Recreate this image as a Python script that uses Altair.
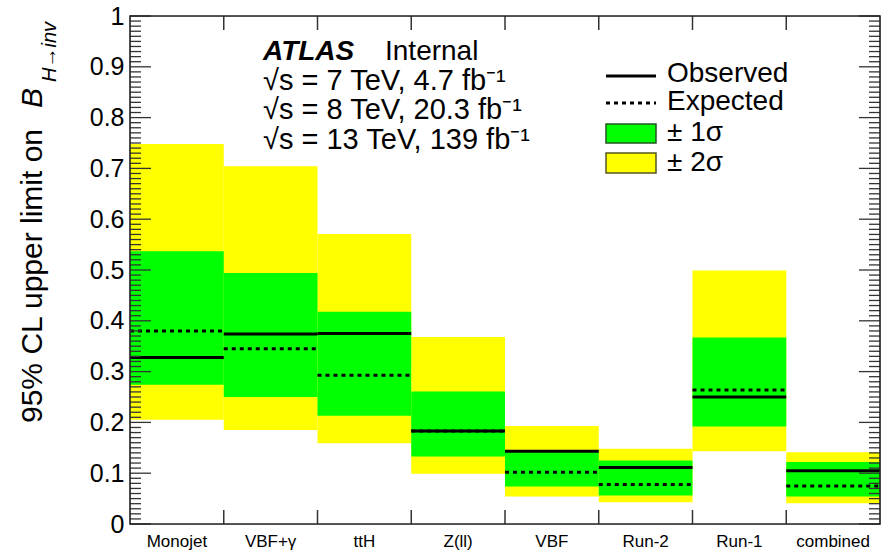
import altair as alt
import pandas as pd

# ---- data ----
categories = ["Monojet", "VBF+γ", "ttH", "Z(ll)", "VBF", "Run-2", "Run-1", "combined"]
observed = [0.328, 0.374, 0.375, 0.183, 0.143, 0.111, 0.250, 0.105]
expected = [0.380, 0.345, 0.293, 0.183, 0.102, 0.078, 0.264, 0.075]
band1_lo = [0.274, 0.250, 0.213, 0.133, 0.074, 0.056, 0.192, 0.054]
band1_hi = [0.537, 0.494, 0.418, 0.261, 0.145, 0.125, 0.367, 0.122]
band2_lo = [0.205, 0.185, 0.159, 0.099, 0.054, 0.043, 0.143, 0.041]
band2_hi = [0.748, 0.704, 0.571, 0.368, 0.193, 0.148, 0.499, 0.141]

y_major = [0.0, 0.1, 0.2, 0.3, 0.4, 0.5, 0.6, 0.7, 0.8, 0.9, 1.0]
y_minor = [i / 100 for i in range(101) if i % 10 != 0]

W, H = 750, 508
FONT = "Liberation Sans"

df = pd.DataFrame({
    "cat": categories, "obs": observed, "exp": expected,
    "lo1": band1_lo, "hi1": band1_hi, "lo2": band2_lo, "hi2": band2_hi,
})
dummy = pd.DataFrame({"a": [0]})

xscale = alt.Scale(domain=categories, paddingInner=0, paddingOuter=0)
yscale = alt.Scale(domain=[0, 1], nice=False, zero=False)

XAX = alt.Axis(title=None, ticks=False, domain=False, labelAngle=0,
               labelFontSize=17, labelColor="black", labelPadding=9,
               labelFont=FONT, grid=False)
YAX = alt.Axis(title=None, values=y_major, format=".1~f", ticks=False,
               domain=False, grid=False, labelFontSize=25,
               labelColor="black", labelPadding=6, labelFlush=False,
               labelOverlap=False, labelFont=FONT)

def X(**kw):
    return alt.X("cat:N", scale=xscale, axis=XAX, **kw)

def Y(f):
    return alt.Y(f, scale=yscale, axis=YAX)

base = alt.Chart(df)

yellow = base.mark_bar(color="#ffff00").encode(x=X(), y=Y("lo2:Q"), y2="hi2:Q")
green = base.mark_bar(color="#00ff00").encode(x=X(), y=Y("lo1:Q"), y2="hi1:Q")
exp_line = base.mark_rule(color="black", strokeWidth=3, strokeDash=[4, 4]).encode(
    x=X(bandPosition=0), x2=alt.X2("cat:N", bandPosition=1), y=Y("exp:Q"))
obs_line = base.mark_rule(color="black", strokeWidth=3).encode(
    x=X(bandPosition=0), x2=alt.X2("cat:N", bandPosition=1), y=Y("obs:Q"))

bound = pd.DataFrame({"cat": categories[1:]})
btick_bottom = alt.Chart(bound).mark_rule(color="#333", strokeWidth=1.5).encode(
    x=X(bandPosition=0), y=alt.value(H), y2=alt.value(H - 14))
btick_top = alt.Chart(bound).mark_rule(color="#333", strokeWidth=1.5).encode(
    x=X(bandPosition=0), y=alt.value(0), y2=alt.value(14))

maj = alt.Chart(pd.DataFrame({"v": y_major}))
mnr = alt.Chart(pd.DataFrame({"v": y_minor}))
yt = []
for ch, ln in ((maj, 21), (mnr, 11)):
    yt.append(ch.mark_rule(color="#333", strokeWidth=1.3).encode(
        y=Y("v:Q"), x=alt.value(0), x2=alt.value(ln)))
    yt.append(ch.mark_rule(color="#333", strokeWidth=1.3).encode(
        y=Y("v:Q"), x=alt.value(W), x2=alt.value(W - ln)))

d = alt.Chart(dummy)

frame = d.mark_rect(fill=None, stroke="#222", strokeWidth=1.6).encode(
    x=alt.value(0), x2=alt.value(W), y=alt.value(0), y2=alt.value(H))

def txt(s, x, y, size=25, **kw):
    return d.mark_text(text=s, fontSize=size, font=FONT, color="black",
                       align=kw.pop("align", "left"), baseline=kw.pop("baseline", "middle"),
                       **kw).encode(x=alt.value(x), y=alt.value(y))

# y-axis title (rotated)
ytitle = [
    txt("95% CL upper limit on", -97, 407, size=30, angle=270, align="left"),
    txt("B", -97, 92, size=30, angle=270, align="left", fontStyle="italic"),
    txt("H→inv", -80, 66, size=20, angle=270, align="left", fontStyle="italic"),
]

# ATLAS label
atlas = [
    txt("ATLAS", 133, 36, size=28, fontWeight="bold", fontStyle="italic"),
    txt("Internal", 255, 36, size=28),
    txt("√s = 7 TeV, 4.7 fb⁻¹", 133, 65, size=29),
    txt("√s = 8 TeV, 20.3 fb⁻¹", 133, 94, size=29),
    txt("√s = 13 TeV, 139 fb⁻¹", 133, 124, size=29),
]

# legend
LX0, LX1, TX = 476, 526, 537
legend = [
    d.mark_rule(color="black", strokeWidth=3).encode(
        x=alt.value(LX0), x2=alt.value(LX1), y=alt.value(60)),
    d.mark_rule(color="black", strokeWidth=3, strokeDash=[4, 4]).encode(
        x=alt.value(LX0), x2=alt.value(LX1), y=alt.value(87)),
    d.mark_rect(color="#00ff00", stroke="#225522", strokeWidth=1.5).encode(
        x=alt.value(LX0), x2=alt.value(LX1), y=alt.value(108), y2=alt.value(127)),
    d.mark_rect(color="#ffff00", stroke="#555522", strokeWidth=1.5).encode(
        x=alt.value(LX0), x2=alt.value(LX1), y=alt.value(137), y2=alt.value(157)),
    txt("Observed", TX, 58, size=28),
    txt("Expected", TX, 86, size=28),
    txt("± 1σ", TX, 117, size=28),
    txt("± 2σ", TX, 147, size=28),
]

chart = alt.layer(
    yellow, green, exp_line, obs_line, btick_bottom, btick_top, *yt, frame,
    *ytitle, *atlas, *legend,
).properties(
    width=W, height=H,
    autosize=alt.AutoSizeParams(type="none"),
    padding={"left": 130, "top": 16, "right": 4, "bottom": 28},
    background="white",
).configure_view(
    stroke=None
).configure(font=FONT)

chart.save("out.html", embed_options={"renderer": "svg", "actions": False})
